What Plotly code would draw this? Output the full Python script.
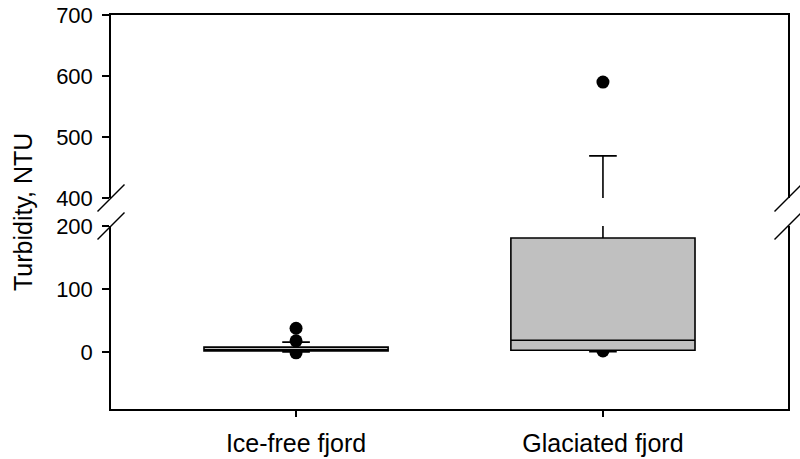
import plotly.graph_objects as go

# Summary statistics per fjord type (turbidity, NTU)
sites = ["Ice-free fjord", "Glaciated fjord"]
q1 = [2, 3]
median = [4, 19]
q3 = [8, 181]
lower_whisker = [0.5, 1]
upper_whisker = [16, 469]

# Individual points beyond the whiskers
outlier_site = ["Ice-free fjord", "Ice-free fjord", "Ice-free fjord",
                "Glaciated fjord", "Glaciated fjord"]
outlier_value = [38, 18, -1, 590, 2]

# Broken y axis: lower and upper segments
lower_range = [-90, 200]
upper_range = [400, 700]
lower_ticks = [0, 100, 200]
upper_ticks = [400, 500, 600, 700]

FONT = "Liberation Sans, Arial, sans-serif"
box_fill = ["#c0c0c0", "#c0c0c0"]

fig = go.Figure()

# Outlier dots sit on the base axes; boxes go on overlaying axes so they
# are drawn above the dots.
for xa, ya_dots, ya_box in [("x", "y", "y3"), ("x2", "y2", "y4")]:
    fig.add_trace(go.Scatter(
        x=outlier_site, y=outlier_value, mode="markers",
        marker=dict(color="black", size=13),
        xaxis=xa, yaxis=ya_dots, showlegend=False, hoverinfo="y",
    ))
    for i, s in enumerate(sites):
        fig.add_trace(go.Box(
            x=[s], q1=[q1[i]], median=[median[i]], q3=[q3[i]],
            lowerfence=[lower_whisker[i]], upperfence=[upper_whisker[i]],
            width=0.6, whiskerwidth=0.15,
            fillcolor=box_fill[i],
            line=dict(color="black", width=1.6),
            boxpoints=False,
            xaxis=xa, yaxis=ya_box, showlegend=False,
        ))

gap = 28 / 394
half = (1 - gap) / 2

axis_common = dict(
    showline=True, linecolor="black", linewidth=1.5,
    ticks="outside", ticklen=7, tickwidth=1.5, tickcolor="black",
    showgrid=False, zeroline=False, automargin=False,
    tickfont=dict(family=FONT, size=22, color="black"),
)
hidden = dict(visible=False, showgrid=False, zeroline=False, automargin=False)

fig.update_layout(
    template="none",
    width=800, height=459,
    margin=dict(l=111, r=12, t=15, b=50),
    paper_bgcolor="white", plot_bgcolor="white",
    xaxis=dict(
        domain=[0, 1], anchor="y", type="category",
        categoryorder="array", categoryarray=sites,
        range=[-0.603, 1.603],
        showline=True, linecolor="black", linewidth=1.5,
        ticks="outside", ticklen=6, tickwidth=1.5, tickcolor="black",
        ticklabelstandoff=5, automargin=False,
        showgrid=False, zeroline=False,
        tickfont=dict(family=FONT, size=25, color="black"),
    ),
    xaxis2=dict(
        domain=[0, 1], anchor="y2", matches="x", side="top",
        type="category", categoryorder="array", categoryarray=sites,
        range=[-0.603, 1.603], automargin=False,
        showline=True, linecolor="black", linewidth=1.5,
        ticks="", showticklabels=False, showgrid=False, zeroline=False,
    ),
    yaxis=dict(
        domain=[0, half], anchor="x", range=lower_range,
        tickvals=lower_ticks, mirror=True, ticklabelstandoff=5,
        **axis_common,
    ),
    yaxis2=dict(
        domain=[1 - half, 1], anchor="x2", range=upper_range,
        tickvals=upper_ticks, mirror=True, ticklabelstandoff=5,
        **axis_common,
    ),
    yaxis3=dict(overlaying="y", anchor="x", range=lower_range, **hidden),
    yaxis4=dict(overlaying="y2", anchor="x2", range=upper_range, **hidden),
    annotations=[dict(
        text="Turbidity, NTU", textangle=-90,
        xref="paper", yref="paper", x=-0.13, y=0.5,
        xanchor="center", yanchor="middle", showarrow=False,
        font=dict(family=FONT, size=25, color="black"),
    )],
)

# Axis-break slashes on both vertical axes
shapes = []
for xa in [0, 1]:
    for ya in [half, 1 - half]:
        shapes.append(dict(
            type="line", xref="paper", yref="paper",
            xsizemode="pixel", ysizemode="pixel",
            xanchor=xa, yanchor=ya,
            x0=-13.5, y0=-13.5, x1=13.5, y1=13.5,
            line=dict(color="black", width=1.5),
        ))
fig.update_layout(shapes=shapes)

fig.write_html("out.html")
